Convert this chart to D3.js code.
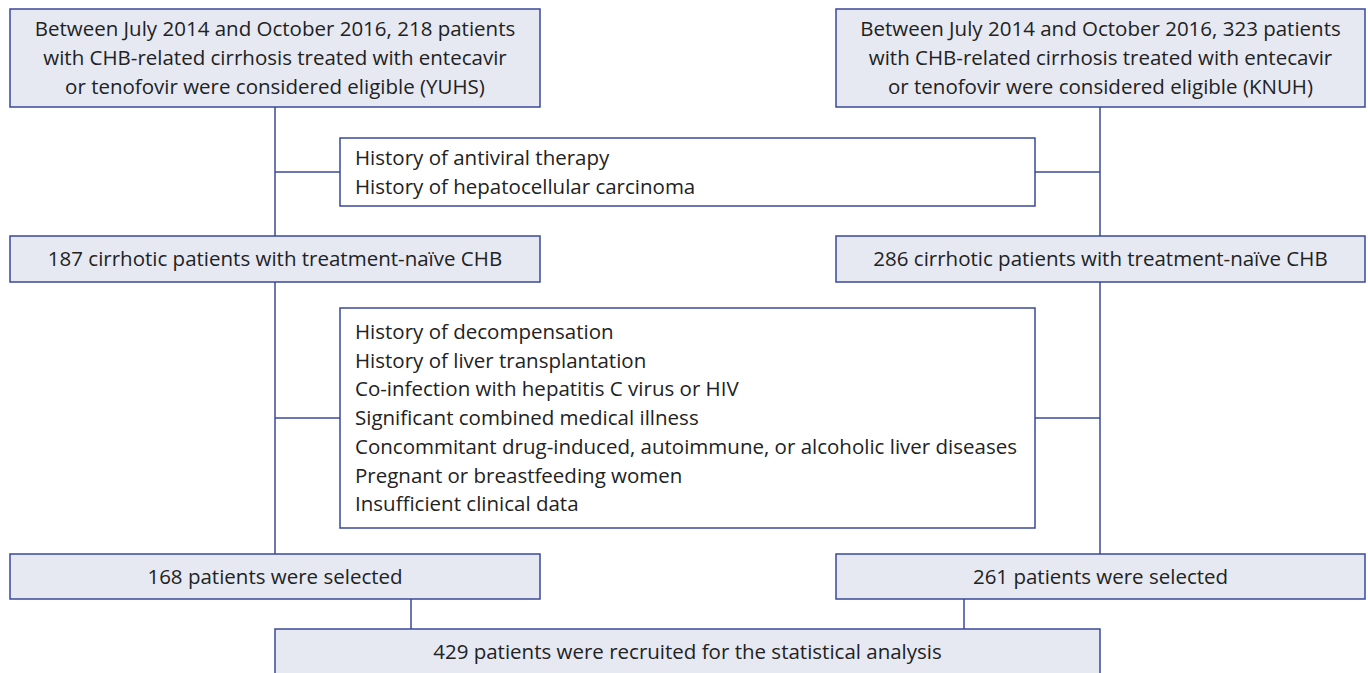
<!DOCTYPE html>
<html>
<head>
<meta charset="utf-8">
<script src="https://cdn.jsdelivr.net/npm/d3@7"></script>
<style>
  body { margin: 0; background: #fff; }
  svg { display: block; }
</style>
</head>
<body>
<div id="root"></div>
<script>
// box texts
var yuhsStart = ["Between July 2014 and October 2016, 218 patients",
                 "with CHB-related cirrhosis treated with entecavir",
                 "or tenofovir were considered eligible (YUHS)"];
var knuhStart = ["Between July 2014 and October 2016, 323 patients",
                 "with CHB-related cirrhosis treated with entecavir",
                 "or tenofovir were considered eligible (KNUH)"];
var exclusion1 = ["History of antiviral therapy",
                  "History of hepatocellular carcinoma"];
var naiveLabels = ["187 cirrhotic patients with treatment-naïve CHB",
                   "286 cirrhotic patients with treatment-naïve CHB"];
var exclusion2 = ["History of decompensation",
                  "History of liver transplantation",
                  "Co-infection with hepatitis C virus or HIV",
                  "Significant combined medical illness",
                  "Concommitant drug-induced, autoimmune, or alcoholic liver diseases",
                  "Pregnant or breastfeeding women",
                  "Insufficient clinical data"];
var selectedLabels = ["168 patients were selected", "261 patients were selected"];
var finalLabel = ["429 patients were recruited for the statistical analysis"];

var width = 1368, height = 673;
var fill = "#e6e9f2", stroke = "#3a4899", textColor = "#222";
var fontSize = 20.5, lineH = 28.7;

// layout
var boxes = [
  {x: 10,  y: 9,   w: 530, h: 98,  lines: yuhsStart,          align: "middle"},
  {x: 836, y: 9,   w: 529, h: 98,  lines: knuhStart,          align: "middle"},
  {x: 340, y: 138, w: 695, h: 68,  lines: exclusion1,         align: "start", white: true},
  {x: 10,  y: 236, w: 530, h: 46,  lines: [naiveLabels[0]],   align: "middle"},
  {x: 836, y: 236, w: 529, h: 46,  lines: [naiveLabels[1]],   align: "middle"},
  {x: 340, y: 308, w: 695, h: 220, lines: exclusion2,         align: "start", white: true},
  {x: 10,  y: 554, w: 530, h: 45,  lines: [selectedLabels[0]], align: "middle"},
  {x: 836, y: 554, w: 529, h: 45,  lines: [selectedLabels[1]], align: "middle"},
  {x: 275, y: 629, w: 825, h: 60,  lines: finalLabel,         align: "middle", textY: 652}
];

var links = [
  [[275, 107], [275, 236]], [[275, 172], [340, 172]],
  [[1100, 107], [1100, 236]], [[1035, 172], [1100, 172]],
  [[275, 282], [275, 554]], [[275, 418], [340, 418]],
  [[1100, 282], [1100, 554]], [[1035, 418], [1100, 418]],
  [[411, 599], [411, 629]], [[964, 599], [964, 629]]
];

var svg = d3.select("#root").append("svg")
  .attr("width", width)
  .attr("height", height);

svg.selectAll("line.link")
  .data(links)
  .enter().append("line")
  .attr("class", "link")
  .attr("x1", d => d[0][0]).attr("y1", d => d[0][1])
  .attr("x2", d => d[1][0]).attr("y2", d => d[1][1])
  .attr("stroke", stroke)
  .attr("stroke-width", 1.5);

var g = svg.selectAll("g.box")
  .data(boxes)
  .enter().append("g")
  .attr("class", "box");

g.append("rect")
  .attr("x", d => d.x).attr("y", d => d.y)
  .attr("width", d => d.w).attr("height", d => d.h)
  .attr("fill", d => d.white ? "#fff" : fill)
  .attr("stroke", stroke)
  .attr("stroke-width", 1.5);

g.each(function(d) {
  var n = d.lines.length;
  var cy = d.textY != null ? d.textY : d.y + d.h / 2;
  var tx = d.align === "middle" ? d.x + d.w / 2 : d.x + 15;
  d3.select(this).selectAll("text")
    .data(d.lines)
    .enter().append("text")
    .attr("x", tx)
    .attr("y", (t, i) => cy + (i - (n - 1) / 2) * lineH)
    .attr("dy", "0.35em")
    .attr("text-anchor", d.align)
    .attr("font-family", "'Open Sans', 'Noto Sans', sans-serif")
    .attr("font-size", fontSize)
    .attr("fill", textColor)
    .text(t => t);
});
</script>
</body>
</html>
